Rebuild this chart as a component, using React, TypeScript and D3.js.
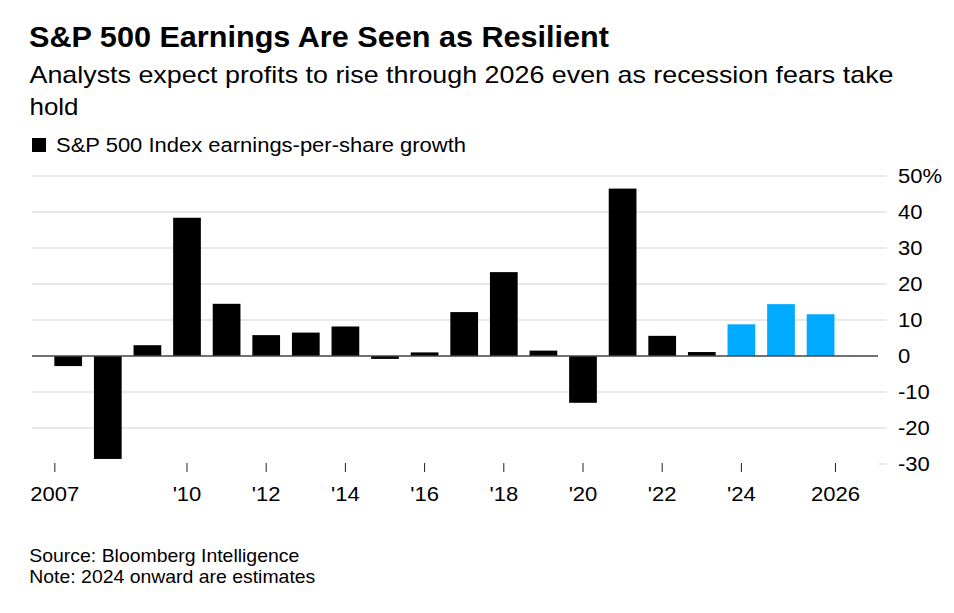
import React from "react";
import * as d3 from "d3";

const years = [2007, 2008, 2009, 2010, 2011, 2012, 2013, 2014, 2015, 2016, 2017, 2018, 2019, 2020, 2021, 2022, 2023, 2024, 2025, 2026];
const epsGrowth = [-2.8, -28.6, 3.0, 38.4, 14.5, 5.8, 6.5, 8.2, -0.8, 1.0, 12.2, 23.3, 1.5, -13.0, 46.5, 5.6, 1.1, 8.8, 14.4, 11.6];
const firstEstimateYear = 2024;
const tickYears = [2007, 2010, 2012, 2014, 2016, 2018, 2020, 2022, 2024, 2026];
const tickLabels = ["2007", "'10", "'12", "'14", "'16", "'18", "'20", "'22", "'24", "2026"];
const yTicks = [50, 40, 30, 20, 10, 0, -10, -20, -30];
const yTickLabels = ["50%", "40", "30", "20", "10", "0", "-10", "-20", "-30"];

const W = 954;
const H = 613;
const FONT = "'Liberation Sans', Arial, Helvetica, sans-serif";
const SX = 1.13;

export default function App() {
  const x = d3.scaleBand<number>().domain(years).range([48.4, 840.4]).paddingInner(0.3).paddingOuter(0.15);
  const y = d3.scaleLinear().domain([-30, 50]).range([464, 176]);
  const gridX0 = 32;
  const gridX1 = 887;
  const zeroX1 = 878;

  const tickX = (yr: number, i: number) => {
    const b = x(yr) as number;
    if (i === 0) return b + 0.5;
    if (i === tickYears.length - 1) return b + x.bandwidth() + 1;
    return b + x.bandwidth() / 2;
  };

  return (
    <svg width={W} height={H} style={{ position: "absolute", left: 0, top: 0, background: "#fff" }} fontFamily={FONT}>
      <rect x={0} y={0} width={W} height={H} fill="#fff" />
      <text x={29} y={46.5} fontSize={29} fontWeight="bold" fill="#000" textLength={580} lengthAdjust="spacingAndGlyphs">
        S&amp;P 500 Earnings Are Seen as Resilient
      </text>
      <text x={29.5} y={83.3} fontSize={24} fill="#000" textLength={864} lengthAdjust="spacingAndGlyphs">
        Analysts expect profits to rise through 2026 even as recession fears take
      </text>
      <text x={29.5} y={115} fontSize={24} fill="#000" textLength={49} lengthAdjust="spacingAndGlyphs">
        hold
      </text>
      <rect x={32} y={138} width={14} height={14} fill="#000" />
      <text x={56} y={152} fontSize={20.5} fill="#000" textLength={410} lengthAdjust="spacingAndGlyphs">
        S&amp;P 500 Index earnings-per-share growth
      </text>

      {yTicks.map((t) =>
        t === 0 ? null : t === -30 ? (
          <line key={t} x1={879} x2={gridX1} y1={y(t)} y2={y(t)} stroke="#e2e2e2" strokeWidth={1.5} />
        ) : (
          <line key={t} x1={gridX0} x2={gridX1} y1={y(t)} y2={y(t)} stroke="#e2e2e2" strokeWidth={1.5} />
        )
      )}
      {yTicks.map((t, i) => (
        <text key={"yl" + t} transform={`translate(898,${y(t)}) scale(${SX},1)`} dy="0.36em" fontSize={19.5} fill="#000">
          {yTickLabels[i]}
        </text>
      ))}

      {years.map((yr, i) => {
        const v = epsGrowth[i];
        const y0 = y(Math.max(0, v));
        const y1 = y(Math.min(0, v));
        return (
          <rect
            key={yr}
            x={x(yr)}
            y={y0}
            width={x.bandwidth()}
            height={y1 - y0}
            fill={yr >= firstEstimateYear ? "#00aaff" : "#000"}
          />
        );
      })}
      <line x1={gridX0} x2={zeroX1} y1={y(0)} y2={y(0)} stroke="#444" strokeWidth={1.5} />

      {tickYears.map((yr, i) => {
        const tx = tickX(yr, i);
        return (
          <g key={"t" + yr}>
            <line x1={tx} x2={tx} y1={463} y2={472} stroke="#222" strokeWidth={1} />
            <text transform={`translate(${tx},501) scale(${SX},1)`} textAnchor="middle" fontSize={19.5} fill="#000">
              {tickLabels[i]}
            </text>
          </g>
        );
      })}

      <text x={29.3} y={562} fontSize={18.5} fill="#000" textLength={270} lengthAdjust="spacingAndGlyphs">
        Source: Bloomberg Intelligence
      </text>
      <text x={29.3} y={583} fontSize={18.5} fill="#000" textLength={286} lengthAdjust="spacingAndGlyphs">
        Note: 2024 onward are estimates
      </text>
    </svg>
  );
}
